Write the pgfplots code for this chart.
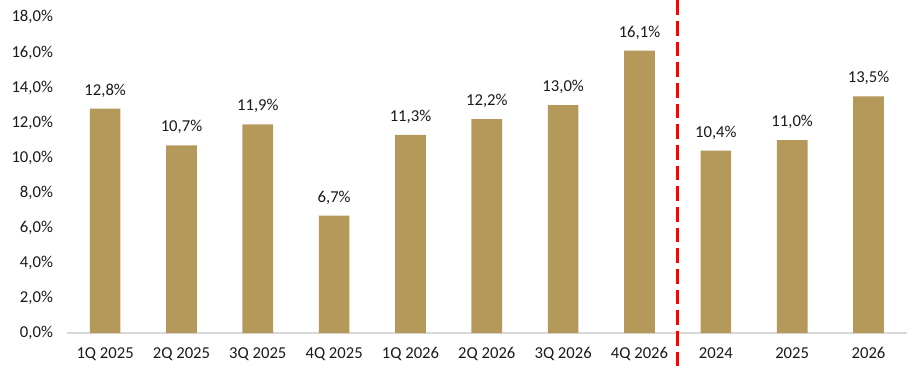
\documentclass[border=0pt]{standalone}
\usepackage{pgfplots}
\pgfplotsset{compat=1.18}
\usepackage{fontspec}
\setmainfont{Carlito}
\definecolor{bargold}{HTML}{B4995B}
\definecolor{axisgray}{HTML}{D9D9D9}
\definecolor{txt}{HTML}{1A1A1A}
\begin{document}
\begin{tikzpicture}
\path[use as bounding box] (0,0) rectangle (688pt,280pt);
\begin{axis}[
  at={(50.25pt,30pt)}, anchor=south west,
  scale only axis, width=630pt, height=237pt,
  xmin=-0.5, xmax=10.5, ymin=0, ymax=18,
  clip=false,
  axis lines*=left,
  x axis line style={draw=axisgray, line width=1.1pt, -},
  y axis line style={draw=none},
  xtick={0,...,10},
  xticklabels={1Q 2025,2Q 2025,3Q 2025,4Q 2025,1Q 2026,2Q 2026,3Q 2026,4Q 2026,2024,2025,2026},
  xtick style={draw=none},
  xticklabel style={font=\fontsize{12.5}{14}\selectfont, text=txt, yshift=-3pt},
  ytick={0,2,...,18},
  yticklabel={\pgfmathprintnumber[fixed,fixed zerofill,precision=1,use comma]{\tick}\%},
  yticklabel style={font=\fontsize{12.5}{14}\selectfont, text=txt, xshift=-7pt},
  /pgf/number format/assume math mode=true,
  ytick style={draw=none},
  ybar, bar width=23pt,
  nodes near coords={\pgfmathprintnumber[fixed,fixed zerofill,precision=1,use comma,assume math mode=true]{\pgfplotspointmeta}\%},
  nodes near coords style={font=\fontsize{12.5}{14}\selectfont, text=txt, anchor=south, yshift=5pt},
]
\addplot[fill=bargold, draw=none] coordinates {
  (0,12.8) (1,10.7) (2,11.9) (3,6.7) (4,11.3) (5,12.2) (6,13.0) (7,16.1) (8,10.4) (9,11.0) (10,13.5)
};
\draw[red, line width=2.2pt, dash pattern=on 11pt off 4.5pt] (axis cs:7.5,18.97) -- (axis cs:7.5,-1.99);
\end{axis}
\end{tikzpicture}
\end{document}
